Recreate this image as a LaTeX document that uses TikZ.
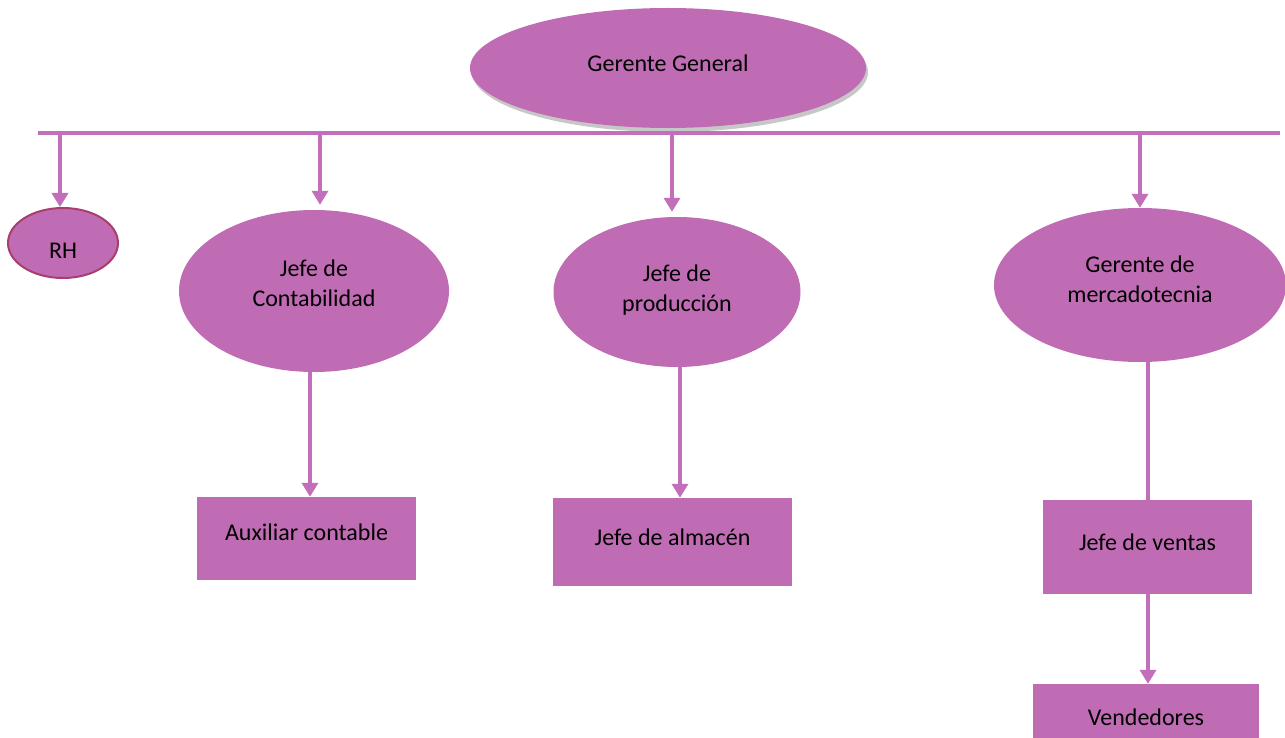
\documentclass[tikz,border=0pt]{standalone}
\usepackage{fontspec}
\setmainfont{Carlito}
\usetikzlibrary{arrows.meta,shadows,shapes.geometric}
\definecolor{orgfill}{RGB}{192,108,180}
\definecolor{orgline}{RGB}{195,110,186}
\definecolor{rhborder}{RGB}{168,62,110}
\begin{document}
\begin{tikzpicture}[x=1pt,y=-1pt,
  every node/.style={font=\fontsize{24}{30}\selectfont, text=black, align=center, inner sep=0pt},
  oval/.style={ellipse, fill=orgfill, draw=none},
  boxnode/.style={rectangle, fill=orgfill, draw=none},
  conn/.style={draw=orgline, line width=4pt},
  arr/.style={conn, -{Triangle[width=16pt,length=14pt]}},
  txt/.style 2 args={label={[yshift=#1, align=center]center:#2}}
]
\useasboundingbox (0,0) rectangle (1285,738);
% top
\node[oval, minimum width=396pt, minimum height=120pt,
  drop shadow={shadow xshift=2pt, shadow yshift=-4pt, fill=black, opacity=0.22},
  txt={5pt}{Gerente General}] (gg) at (668,68) {};
\coordinate (barL) at (38,133);
\coordinate (barR) at (1280,133);
\draw[conn] (barL) -- (barR);
% second level
\node[oval, draw=rhborder, line width=2pt, minimum width=110pt, minimum height=70pt,
  txt={-8pt}{RH}] (rh) at (63,243) {};
\node[oval, minimum width=270pt, minimum height=162pt,
  txt={8pt}{Jefe de\\Contabilidad}] (jc) at (314,291) {};
\node[oval, minimum width=247pt, minimum height=150pt,
  txt={2pt}{Jefe de\\producción}] (jp) at (677,292) {};
\node[oval, minimum width=292pt, minimum height=154pt,
  txt={6pt}{Gerente de\\mercadotecnia}] (gm) at (1140,285) {};
% boxes
\node[boxnode, minimum width=219pt, minimum height=83pt,
  txt={6.5pt}{Auxiliar contable}] (ac) at (306.5,538.5) {};
\node[boxnode, minimum width=239pt, minimum height=88pt,
  txt={5pt}{Jefe de almacén}] (ja) at (672.5,542) {};
\node[boxnode, minimum width=209pt, minimum height=94pt,
  txt={5pt}{Jefe de ventas}] (jv) at (1147.5,547) {};
\node[boxnode, minimum width=226pt, minimum height=90pt,
  txt={12pt}{Vendedores}] (vd) at (1146,729) {};
% arrows from bar
\coordinate (b1) at (60,133);
\coordinate (b2) at (320,133);
\coordinate (b3) at (672,133);
\coordinate (b4) at (1140,133);
\draw[arr] (b1) -- (b1 |- rh.north);
\draw[arr] (b2) -- ([yshift=5pt]b2 |- jc.north);
\draw[arr] (b3) -- ([yshift=5pt]b3 |- jp.north);
\draw[arr] (b4) -- (b4 |- gm.north);
% lower connectors
\coordinate (c1) at (310,0);
\coordinate (c2) at (680,0);
\coordinate (c3) at (1148,0);
\draw[arr] (c1 |- jc.south) -- (c1 |- ac.north);
\draw[arr] (c2 |- jp.south) -- (c2 |- ja.north);
\draw[conn] (c3 |- gm.south) -- (c3 |- jv.north);
\draw[arr] (c3 |- jv.south) -- (c3 |- vd.north);
\end{tikzpicture}
\end{document}
